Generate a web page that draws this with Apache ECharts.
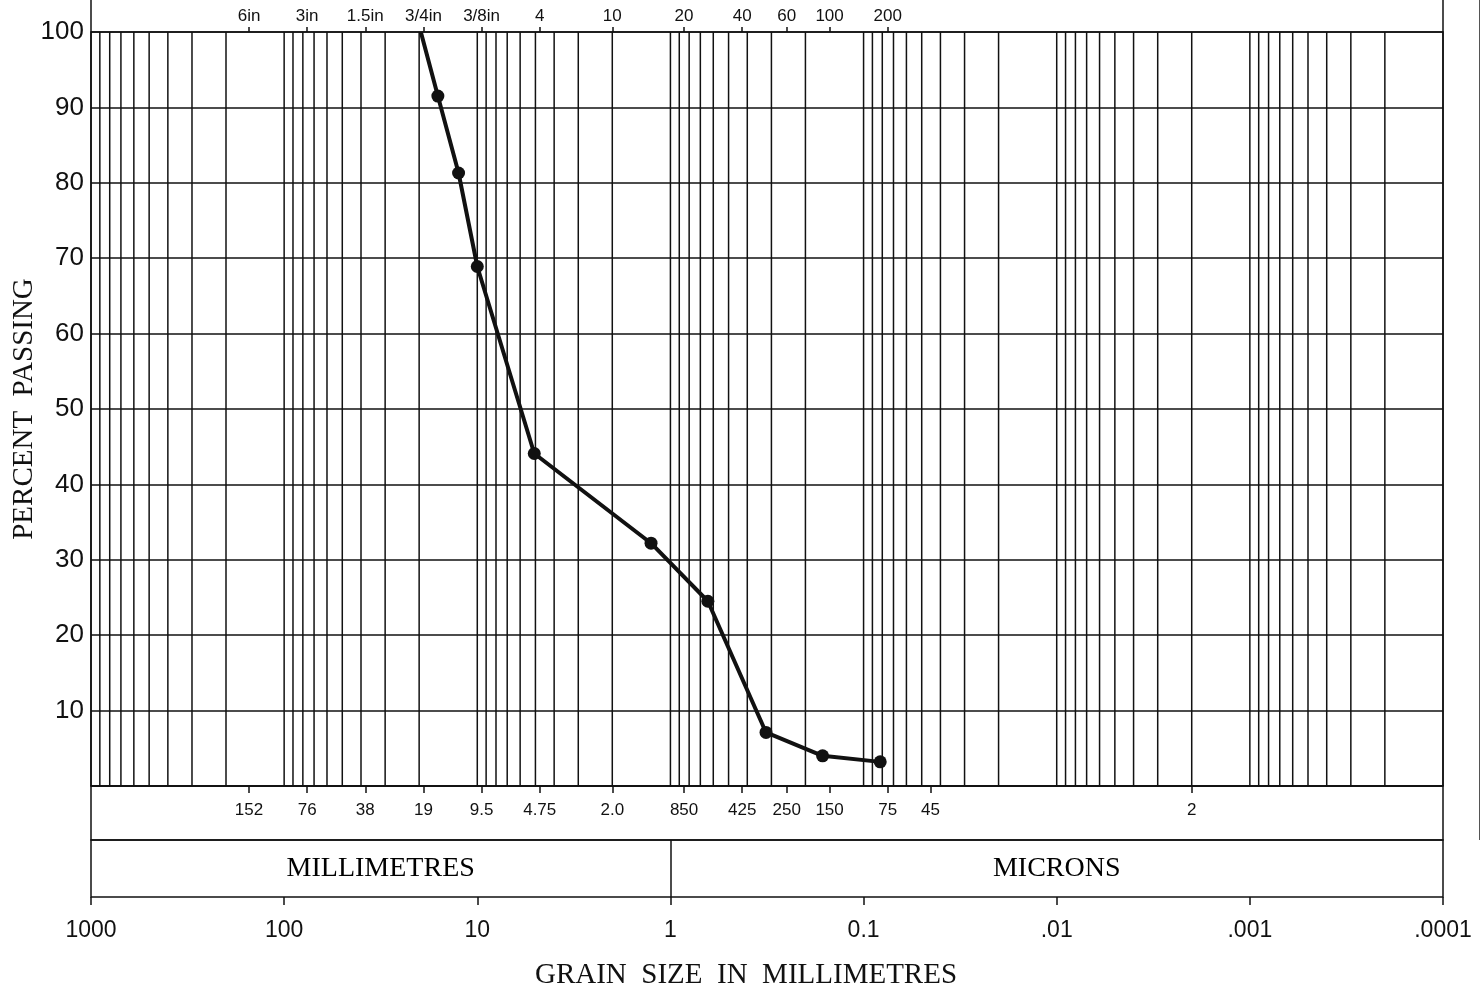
<!DOCTYPE html>
<html>
<head>
<meta charset="utf-8">
<script src="https://cdn.jsdelivr.net/npm/echarts@6/dist/echarts.min.js"></script>
<style>
html,body{margin:0;padding:0;background:#fff;}
#chart{width:1481px;height:992px;}
</style>
</head>
<body>
<div id="chart"></div>
<script>
// ---- data ----
const grainSizeMm = [19.6, 16.0, 12.5, 10.0, 5.07, 1.26, 0.64, 0.32, 0.163, 0.082];
const percentPassing = [100, 91.5, 81.3, 68.9, 44.1, 32.2, 24.5, 7.1, 4.0, 3.2];

// sieve designations (top) and their openings in mm
const sieveNames = ['6in', '3in', '1.5in', '3/4in', '3/8in', '4', '10', '20', '40', '60', '100', '200'];
const sieveMm = [152, 76, 38, 19, 9.5, 4.75, 2.0, 0.85, 0.425, 0.25, 0.15, 0.075];

// size labels in the strip under the plot
const stripLabels = ['152', '76', '38', '19', '9.5', '4.75', '2.0', '850', '425', '250', '150', '75', '45', '2'];
const stripMm = [152, 76, 38, 19, 9.5, 4.75, 2.0, 0.85, 0.425, 0.25, 0.15, 0.075, 0.045, 0.002];

// bottom decade labels
const decadeLabels = ['1000', '100', '10', '1', '0.1', '.01', '.001', '.0001'];
const decadeMm = [1000, 100, 10, 1, 0.1, 0.01, 0.001, 0.0001];

const unitNames = ['MILLIMETRES', 'MICRONS'];
const unitBounds = [[1000, 1], [1, 0.0001]];

// ---- helpers ----
function lookup(vals, labels) {
  return function (v) {
    for (let i = 0; i < vals.length; i++) {
      if (Math.abs(Math.log10(v) - Math.log10(vals[i])) < 1e-3) return labels[i];
    }
    return '';
  };
}
// vertical log grid positions: 1..9 x 10^n
const gridValues = [];
for (let n = -4; n <= 2; n++) {
  for (let k = 1; k <= 9; k++) gridValues.push(k * Math.pow(10, n));
}
gridValues.push(1000);

const BLACK = '#111';
const SANS = '"Liberation Sans", Arial, sans-serif';
const SERIF = '"Liberation Serif", "Times New Roman", serif';
const L = 91, W = 1352;

const chart = echarts.init(document.getElementById('chart'), null, { renderer: 'canvas' });

const logX = { type: 'log', logBase: 10, min: 0.0001, max: 1000, inverse: true };
const gridBase = { left: L, width: W, show: true, borderColor: BLACK, borderWidth: 1.5,
  backgroundColor: 'transparent', containLabel: false, outerBoundsMode: 'none' };
const noLine = { show: false, onZero: false };

chart.setOption({
  animation: false,
  backgroundColor: '#fff',
  grid: [
    Object.assign({}, gridBase, { top: 32, height: 754 }),
    Object.assign({}, gridBase, { top: 786, height: 54 }),
    Object.assign({}, gridBase, { top: 840, height: 57 })
  ],
  xAxis: [
    Object.assign({}, logX, {
      gridIndex: 0, position: 'bottom',
      axisLine: noLine, axisTick: { show: false }, axisLabel: { show: false },
      splitLine: { show: false }
    }),
    Object.assign({}, logX, {
      gridIndex: 0, position: 'top',
      axisLine: noLine,
      axisTick: { show: true, customValues: sieveMm, length: 5, inside: false, lineStyle: { color: BLACK, width: 1.5 } },
      axisLabel: { show: true, customValues: sieveMm, formatter: lookup(sieveMm, sieveNames), margin: 7,
        fontFamily: SANS, fontSize: 17, color: BLACK },
      splitLine: { show: false }
    }),
    Object.assign({}, logX, {
      gridIndex: 1, position: 'top',
      axisLine: noLine,
      axisTick: { show: true, customValues: stripMm, length: 7, inside: true, lineStyle: { color: BLACK, width: 1.5 } },
      axisLabel: { show: true, inside: true, customValues: stripMm, formatter: lookup(stripMm, stripLabels), margin: 16,
        fontFamily: SANS, fontSize: 17, color: BLACK },
      splitLine: { show: false }
    }),
    Object.assign({}, logX, {
      gridIndex: 2, position: 'bottom',
      axisLine: noLine,
      axisTick: { show: true, customValues: decadeMm, length: 8, inside: false, lineStyle: { color: BLACK, width: 1.5 } },
      axisLabel: { show: true, customValues: decadeMm, formatter: lookup(decadeMm, decadeLabels), margin: 22,
        fontFamily: SANS, fontSize: 23, color: BLACK },
      splitLine: { show: false },
      name: 'GRAIN  SIZE  IN  MILLIMETRES', nameLocation: 'middle', nameGap: 64,
      nameTextStyle: { fontFamily: SERIF, fontSize: 29, color: BLACK, padding: [0, 42, 0, 0] }
    })
  ],
  yAxis: [
    {
      type: 'value', gridIndex: 0, min: 0, max: 100, interval: 10,
      axisLine: noLine, axisTick: { show: false },
      axisLabel: { show: true, formatter: v => (v === 0 ? '' : String(v)), margin: 7,
        fontFamily: SANS, fontSize: 26, color: BLACK },
      splitLine: { show: true, lineStyle: { color: BLACK, width: 1.5 } },
      name: 'PERCENT  PASSING', nameLocation: 'middle', nameGap: 52, nameRotate: 90,
      nameMoveOverlap: false,
      nameTextStyle: { fontFamily: SERIF, fontSize: 29, color: BLACK }
    },
    { type: 'value', gridIndex: 1, min: 0, max: 1, show: false, axisLine: noLine },
    { type: 'value', gridIndex: 2, min: 0, max: 1, show: false, axisLine: noLine }
  ],
  series: [
    {
      // vertical log grid (1..9 per decade), drawn through the axis scales
      type: 'custom', xAxisIndex: 0, yAxisIndex: 0, silent: true, z: 1, clip: false,
      data: gridValues.map(v => [v]),
      renderItem: function (params, api) {
        const v = api.value(0);
        const p0 = api.coord([v, 0]);
        const p1 = api.coord([v, 100]);
        return { type: 'line', shape: { x1: p0[0], y1: p0[1], x2: p1[0], y2: p1[1] },
          style: { stroke: BLACK, lineWidth: 1.5 } };
      }
    },
    {
      type: 'line', xAxisIndex: 0, yAxisIndex: 0, z: 5,
      data: grainSizeMm.map((d, i) => [d, percentPassing[i]]),
      symbol: (v, p) => (p.dataIndex === 0 ? 'none' : 'circle'),
      symbolSize: 13,
      showAllSymbol: true,
      lineStyle: { color: BLACK, width: 4 },
      itemStyle: { color: BLACK },
      emphasis: { disabled: true }
    },
    {
      type: 'scatter', xAxisIndex: 3, yAxisIndex: 2, silent: true, symbolSize: 0,
      itemStyle: { opacity: 1 },
      data: unitNames.map((n, i) => ({ name: n, value: [Math.sqrt(unitBounds[i][0] * unitBounds[i][1]), 0.5] })),
      label: { show: true, position: 'inside', formatter: p => p.name, opacity: 1,
        fontFamily: SERIF, fontSize: 28, color: '#000', textBorderWidth: 0 },
      markLine: {
        silent: true, symbol: ['none', 'none'], label: { show: false },
        lineStyle: { color: BLACK, width: 1.5, type: 'solid', opacity: 1 },
        data: [{ xAxis: unitBounds[0][1] }]
      }
    }
  ],
  graphic: [
    { type: 'line', shape: { x1: L, y1: 0, x2: L, y2: 32 }, style: { stroke: BLACK, lineWidth: 1.5 }, silent: true },
    { type: 'line', shape: { x1: L + W, y1: 0, x2: L + W, y2: 32 }, style: { stroke: BLACK, lineWidth: 1.5 }, silent: true },
    { type: 'line', shape: { x1: 1479.5, y1: 0, x2: 1479.5, y2: 840 }, style: { stroke: '#555', lineWidth: 1 }, silent: true }
  ]
});
</script>
</body>
</html>
